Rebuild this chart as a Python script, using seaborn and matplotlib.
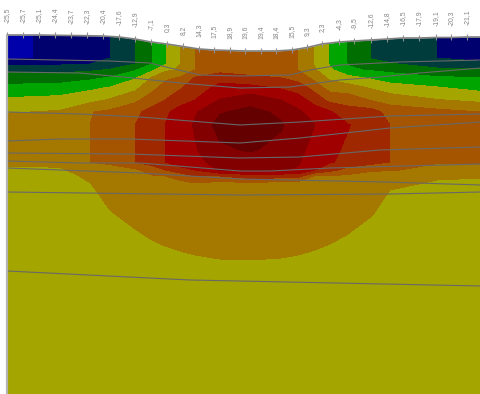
import numpy as np
import pandas as pd
import matplotlib
matplotlib.use("Agg")
import matplotlib.pyplot as plt
import seaborn as sns

# stations along the surface
station_x = [7, 23, 39, 55, 71, 87, 103, 119, 135, 151, 167, 183, 199, 214, 230,
             245, 261, 276, 292, 307, 322, 339, 354, 371, 387, 403, 419, 436, 451, 467]
surface_y = [35, 35, 35, 35.3, 35.5, 35.7, 36, 37, 39, 42, 44, 46.5, 49, 50, 50.5,
             51, 51, 51, 50, 47.5, 44, 42, 41, 40, 39, 38, 38, 37.5, 37.5, 37]
station_labels = ["-25,5", "-25,7", "-25,1", "-24,4", "-23,7", "-22,3", "-20,4", "-17,6", "-12,9", "-7,1",
                  "0,3", "8,2", "14,3", "17,5", "18,9", "19,6", "19,4", "18,4", "15,5", "9,3",
                  "2,3", "-4,3", "-9,5", "-12,6", "-14,8", "-16,5", "-17,9", "-19,1", "-20,3", "-21,1"]

# field grid
grid_y = [35, 58, 64, 70, 78, 88, 100, 112, 125, 150, 162, 170, 176, 183, 200, 215, 230, 245, 260, 300, 394]
col_x = [7, 30, 60, 90, 110, 135, 152, 165, 180, 195, 220, 250, 281, 298, 315, 330, 348, 372, 390, 437, 481]
c007 = [.5, .7, 1.7, 2.7, 3.5, 4.25, 5.2, 5.95, 6.5, 6.5, 6.2, 5.8, 5.6, 5.5, 5.5, 5.5, 5.5, 5.5, 5.5, 5.5, 5.5]
c030 = [.95, .95, 1.8, 2.7, 3.6, 4.3, 5.25, 6.0, 6.55, 6.55, 6.25, 5.8, 5.6, 5.5, 5.5, 5.5, 5.5, 5.5, 5.5, 5.5, 5.5]
c060 = [1.4, 1.45, 1.85, 2.7, 3.55, 4.4, 5.35, 6.1, 6.65, 6.65, 6.3, 5.85, 5.65, 5.5, 5.5, 5.5, 5.5, 5.5, 5.5, 5.5, 5.5]
c090 = [1.7, 1.7, 2.0, 2.85, 3.8, 4.8, 5.7, 6.95, 7.0, 7.0, 7.0, 6.5, 6.2, 5.98, 5.64, 5.4, 5.4, 5.4, 5.4, 5.4, 5.4]
c110 = [2.0, 2.0, 2.3, 3.1, 4.1, 5.1, 6.1, 7.2, 7.4, 7.4, 7.1, 6.8, 6.65, 6.5, 6.2, 5.9, 5.6, 5.4, 5.4, 5.4, 5.4]
c135 = [3.0, 3.0, 3.0, 3.9, 4.9, 5.75, 6.75, 7.8, 8.0, 8.0, 8.0, 6.8, 6.65, 6.5, 6.45, 6.28, 5.98, 5.68, 5.4, 5.4, 5.4]
c152 = [4.0, 4.0, 4.0, 4.8, 6.1, 6.7, 7.6, 8.3, 8.5, 8.5, 8.4, 7.5, 6.9, 6.6, 6.55, 6.5, 6.2, 5.9, 5.6, 5.4, 5.4]
c165 = [4.9, 4.9, 4.9, 5.8, 6.8, 7.4, 8.0, 8.8, 9.0, 9.0, 9.0, 8.0, 7.0, 6.7, 6.6, 6.55, 6.32, 6.02, 5.72, 5.4, 5.4]
c180 = [6.0, 6.0, 6.0, 6.1, 7.1, 7.9, 8.6, 9.4, 9.5, 9.5, 9.4, 8.7, 7.3, 6.8, 6.65, 6.6, 6.42, 6.12, 5.82, 5.4, 5.4]
c195 = [7.0, 7.0, 7.0, 7.0, 8.1, 8.5, 9.0, 9.9, 10.1, 9.9, 9.7, 9.0, 8.0, 7.0, 6.7, 6.65, 6.5, 6.2, 5.9, 5.4, 5.4]
c220 = [7.5, 7.5, 7.5, 7.6, 8.7, 9.3, 10.05, 10.9, 11.4, 10.8, 10.4, 10.1, 8.0, 6.7, 6.7, 6.65, 6.58, 6.28, 5.98, 5.4, 5.4]
c250 = [7.6, 7.6, 7.6, 7.8, 8.1, 9.4, 10.6, 11.3, 11.7, 11.1, 10.5, 10.1, 8.6, 6.9, 6.7, 6.65, 6.6, 6.3, 6.0, 5.4, 5.4]
c281 = [7.5, 7.5, 7.5, 7.7, 8.0, 8.9, 10.0, 10.8, 11.1, 10.7, 10.2, 10.05, 8.5, 6.6, 6.65, 6.6, 6.56, 6.26, 5.96, 5.4, 5.4]
c298 = [7.0, 7.0, 7.0, 7.0, 7.6, 8.6, 9.4, 10.2, 10.5, 10.3, 10.1, 9.9, 8.4, 6.6, 6.65, 6.6, 6.5, 6.2, 5.9, 5.4, 5.4]
c315 = [5.9, 5.9, 5.9, 6.1, 6.7, 7.6, 8.6, 9.5, 10.0, 9.6, 9.4, 9.0, 6.9, 6.6, 6.6, 6.55, 6.4, 6.1, 5.8, 5.4, 5.4]
c330 = [4.9, 4.9, 4.9, 5.2, 5.8, 6.6, 7.7, 9.1, 9.5, 9.2, 9.1, 8.3, 6.95, 6.6, 6.55, 6.5, 6.28, 5.98, 5.68, 5.4, 5.4]
c348 = [3.9, 3.9, 3.95, 4.15, 5.4, 6.45, 7.6, 8.4, 9.05, 8.85, 8.7, 7.6, 6.8, 6.5, 6.5, 6.38, 6.08, 5.78, 5.48, 5.4, 5.4]
c372 = [2.95, 2.95, 3.2, 3.9, 4.85, 5.9, 6.9, 8.4, 8.5, 8.5, 8.3, 7.2, 6.3, 6.4, 6.3, 6.02, 5.72, 5.42, 5.4, 5.4, 5.4]
c390 = [2.7, 2.7, 3.1, 3.75, 4.5, 5.5, 6.55, 7.6, 8.0, 8.0, 8.0, 7.1, 6.2, 6.14, 5.8, 5.5, 5.4, 5.4, 5.4, 5.4, 5.4]
c437 = [2.0, 2.0, 2.5, 3.25, 4.15, 5.1, 6.05, 7.3, 7.4, 7.4, 7.1, 6.6, 6.08, 5.94, 5.6, 5.4, 5.4, 5.4, 5.4, 5.4, 5.4]
c481 = [1.5, 1.5, 2.4, 3.2, 4.05, 4.7, 5.75, 7.0, 7.4, 7.3, 7.1, 6.6, 6.04, 5.9, 5.5, 5.4, 5.4, 5.4, 5.4, 5.4, 5.4]

band_colors = ["#0000aa", "#00006e", "#003c3c", "#006e00", "#00a500", "#a5a500",
               "#a57800", "#a55500", "#a02800", "#a00000", "#820000", "#640000"]
band_levels = [0, 1, 2, 3, 4, 5, 6, 7, 8, 9, 10, 11, 12]

# strata lines
l1_x = [7, 110, 150, 170, 200, 240, 290, 310, 340, 400, 481]
l1_y = [59, 61, 63, 68, 75, 76, 75, 70, 65, 62, 60]
l2_x = [7, 80, 133, 180, 240, 290, 340, 380, 420, 481]
l2_y = [72, 73, 78, 83, 88, 87, 80, 77, 73, 68]
l3_x = [7, 80, 140, 240, 300, 390, 481]
l3_y = [112, 114, 117, 125, 122, 116, 114]
l4_x = [7, 60, 130, 240, 300, 390, 481]
l4_y = [141, 139, 139, 143, 138, 128, 122]
l5_x = [7, 130, 240, 300, 380, 481]
l5_y = [153, 154, 158, 157, 150, 147]
l6_x = [7, 80, 140, 240, 270, 330, 481]
l6_y = [161, 163, 163, 171, 171, 168, 164]
l7_x = [7, 60, 140, 240, 385, 481]
l7_y = [168, 170, 173, 179, 182, 185]
l8_x = [7, 240, 390, 481]
l8_y = [192, 195, 194, 192]
l9_x = [7, 190, 481]
l9_y = [271, 280, 286]

sns.set_style("white")
fig = plt.figure(figsize=(4.81, 3.94), dpi=100)
ax = fig.add_axes([0, 0, 1, 1])

field = np.column_stack([c007, c030, c060, c090, c110, c135, c152, c165, c180, c195, c220,
                         c250, c281, c298, c315, c330, c348, c372, c390, c437, c481])
ax.contourf(col_x, grid_y, field, levels=band_levels, colors=band_colors, antialiased=False)
ax.fill_between(station_x + [481], 0, surface_y + [37], color="white", lw=0, zorder=2)

frames = []
for i, (xs, ys) in enumerate([(l1_x, l1_y), (l2_x, l2_y), (l3_x, l3_y), (l4_x, l4_y), (l5_x, l5_y),
                              (l6_x, l6_y), (l7_x, l7_y), (l8_x, l8_y), (l9_x, l9_y)]):
    frames.append(pd.DataFrame({"x": xs, "y": ys, "line": i}))
sns.lineplot(data=pd.concat(frames), x="x", y="y", units="line", estimator=None, color="#686868",
             lw=0.8, ax=ax, zorder=3, legend=False)
sns.lineplot(x=station_x + [481], y=surface_y + [37], color="#808080", lw=1.2, ax=ax, zorder=4,
             estimator=None, legend=False)

ax.vlines(station_x, np.array(surface_y) - 3.5, np.array(surface_y) + 2.5, color="#8f8f8f", lw=0.8, zorder=5)
ax.vlines(7, 35, 394, color="#b4b4b4", lw=1.6, zorder=5)
for xv, yv, lab in zip(station_x, surface_y, station_labels):
    ax.text(xv, yv - 12, lab, rotation=90, ha="center", va="bottom", fontsize=4.9,
            family="Liberation Sans", color="#858585", zorder=6)

ax.set_xlim(0, 481)
ax.set_ylim(394, 0)
ax.set_xlabel("")
ax.set_ylabel("")
ax.axis("off")
fig.savefig("out.png", dpi=100)
